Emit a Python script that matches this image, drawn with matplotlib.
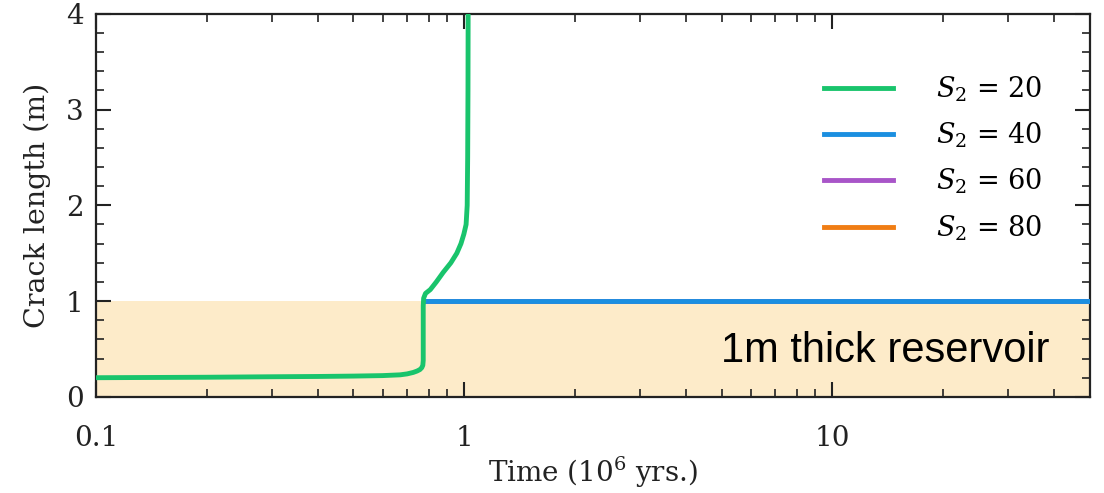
import matplotlib
matplotlib.use("Agg")
import matplotlib.pyplot as plt
from matplotlib.ticker import LogLocator, FixedLocator, NullFormatter, MultipleLocator

# ---- data ----
green_t = [0.1, 0.2, 0.3, 0.4, 0.5, 0.6, 0.67, 0.70, 0.727, 0.745, 0.758, 0.767, 0.772, 0.774,
           0.774, 0.776, 0.785, 0.809, 0.84, 0.877, 0.92, 0.955, 0.98, 0.998, 1.012, 1.019,
           1.022, 1.024, 1.025]
green_y = [0.20, 0.205, 0.21, 0.213, 0.217, 0.222, 0.23, 0.24, 0.255, 0.27, 0.285, 0.305, 0.33, 0.38,
           0.95, 1.03, 1.08, 1.12, 1.20, 1.30, 1.40, 1.50, 1.60, 1.70, 1.80, 2.0,
           2.5, 3.2, 4.0]
flat_t = [0.78, 50.0]
flat_y = [1.0, 1.0]
labels = [r"$S_2$ = 20", r"$S_2$ = 40", r"$S_2$ = 60", r"$S_2$ = 80"]
colors = ["#19c46c", "#1b8fe0", "#a855c8", "#f07d14"]
reservoir_top = 1.0
xlim = (0.1, 50)
ylim = (0, 4)

plt.rcParams['font.family'] = ['DejaVu Serif']
plt.rcParams['mathtext.fontset'] = 'dejavuserif'

fig = plt.figure(figsize=(11.04, 4.93), dpi=100)
ax = fig.add_axes([0.087, 0.195, 0.900, 0.777])

ax.axhspan(ylim[0], reservoir_top, color="#fdebc9", zorder=0, lw=0)

ax.plot(flat_t, flat_y, color=colors[3], lw=3.5, label=labels[3], zorder=2)
ax.plot(flat_t, flat_y, color=colors[2], lw=3.5, label=labels[2], zorder=3)
ax.plot(flat_t, flat_y, color=colors[1], lw=3.5, label=labels[1], zorder=4)
ax.plot(green_t, green_y, color=colors[0], lw=3.5, label=labels[0], zorder=5,
        solid_joinstyle='round')

ax.set_xscale('log')
ax.set_xlim(*xlim)
ax.set_ylim(*ylim)
ax.xaxis.set_major_locator(FixedLocator([0.1, 1, 10]))
ax.set_xticklabels(["0.1", "1", "10"])
ax.xaxis.set_minor_locator(LogLocator(base=10, subs=range(2, 10), numticks=20))
ax.xaxis.set_minor_formatter(NullFormatter())
ax.yaxis.set_major_locator(MultipleLocator(1))
ax.yaxis.set_minor_locator(MultipleLocator(0.2))

ax.tick_params(which='both', direction='in', top=True, right=True, labelsize=20, colors='#222222')
ax.tick_params(axis='x', which='major', length=11, width=1.5, pad=20)
ax.tick_params(axis='y', which='major', length=11, width=1.5, pad=9)
ax.tick_params(which='minor', length=6, width=1.2)
for s in ax.spines.values():
    s.set_linewidth(1.6)
    s.set_color('#222222')

ax.set_xlabel(r"Time (10$^6$ yrs.)", fontsize=20, labelpad=2, color='#222222')
ax.set_ylabel("Crack length (m)", fontsize=20.5, labelpad=11, color='#222222')

handles, labs = ax.get_legend_handles_labels()
order = [3, 2, 1, 0]
leg = ax.legend([handles[i] for i in order], [labs[i] for i in order], loc='upper right',
                frameon=False, fontsize=19.5, handlelength=2.55, handletextpad=1.6,
                labelspacing=0.62, bbox_to_anchor=(0.977, 0.906))

ax.text(0.96, 0.091, "1m thick reservoir", transform=ax.transAxes, ha='right', va='baseline',
        fontsize=30, family='Liberation Sans', color='black')

fig.savefig("out.png", dpi=100)
